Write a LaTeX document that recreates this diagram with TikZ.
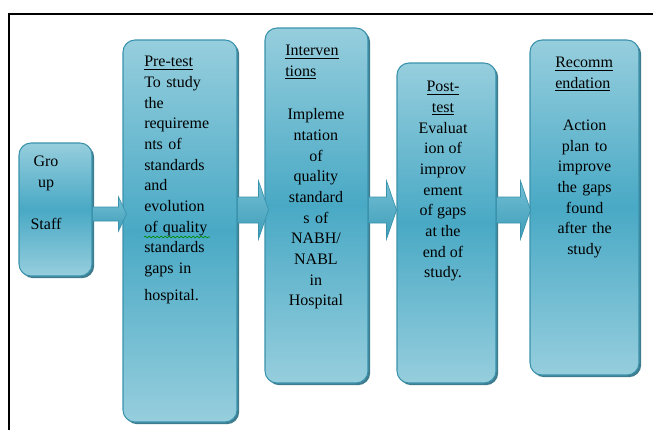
\documentclass[tikz,border=0pt]{standalone}
\usepackage{fontspec}
\setmainfont{Liberation Serif}
\usetikzlibrary{calc}
\usetikzlibrary{shadows}
\usetikzlibrary{decorations.pathmorphing}

\definecolor{boxlight}{HTML}{96CEDD}
\definecolor{boxmid}{HTML}{49A9C5}
\definecolor{boxedge}{HTML}{3A92AC}
\definecolor{boxshadow}{HTML}{2A6E82}
\definecolor{arrowtop}{HTML}{72BFD4}
\definecolor{arrowbot}{HTML}{3E9DB8}

\tikzset{
  stage/.style={rectangle, rounded corners=9pt, draw=boxedge, line width=0.8pt,
    top color=boxlight, bottom color=boxlight, middle color=boxmid,
    drop shadow={shadow xshift=1.6pt, shadow yshift=-1.6pt, fill=boxshadow, opacity=0.9}},
  stagetext/.style={inner sep=0pt, font=\fontsize{12}{15.5}\selectfont},
  flowarrow/.style={draw=boxedge, line width=0.5pt, top color=arrowtop, bottom color=arrowbot}
}

\begin{document}
\begin{tikzpicture}[x=0.75pt, y=-0.75pt]
\useasboundingbox (0,0) rectangle (653,430);

% frame
\draw[line width=1.1pt] (653,14) -- (9,14) -- (9,430);

% the five stages
\node[stage, minimum width=54.75pt, minimum height=99.75pt] (group) at (55.5,209.5) {};
\node[stage, minimum width=85.5pt, minimum height=286.5pt] (pre) at (180,231) {};
\node[stage, minimum width=77.25pt, minimum height=266.25pt] (interv) at (316.5,205.5) {};
\node[stage, minimum width=74.25pt, minimum height=240pt] (post) at (446.5,223) {};
\node[stage, minimum width=81.75pt, minimum height=251.25pt] (recom) at (584.5,207.5) {};

% texts of the stages
\node[stagetext, align=center, anchor=north] (grouptxt) at (46,156) {Gro\\up\\[16pt]Staff};
\node[stagetext, align=left, text width=62pt, anchor=north west] (pretxt) at (144,56)
  {\underline{Pre-test}\\To study\\the\\requireme\\nts of\\standards\\and\\evolution\\of  quality\\standards\\gaps in\\[5pt]hospital.};
\node[stagetext, text width=46pt, anchor=north west] (intervtxt) at (285,45)
  {{\raggedright\underline{Interven}\\\underline{tions}\par}\vspace{17pt}
   {\centering Impleme\\ntation\\of\\quality\\standard\\s of\\NABH/\\NABL\\in\\Hospital\par}};
\node[stagetext, align=center, anchor=north] (posttxt) at (443,81)
  {\underline{Post-}\\\underline{test}\\Evaluat\\ion of\\improv\\ement\\of gaps\\at the\\end of\\study.};
\node[stagetext, text width=44pt, anchor=north west] (recomtxt) at (555,57)
  {{\raggedright\underline{Recomm}\\\underline{endation}\par}\vspace{16pt}
   {\centering Action\\plan to\\improve\\the gaps\\found\\after the\\study\par}};

% green spell-check wave under "of quality"
\draw[green!55!black, line width=0.5pt, decorate, decoration={snake, amplitude=0.6pt, segment length=3pt}]
  ($(pretxt.north west)+(0,181)$) -- ++(66,0);

% block arrows between stages
\path[flowarrow] ($(group.east)+(0,-2.5)$) -- ++(26,0) -- ++(0,-10) -- ++(8,17)
  -- ++(-8,17) -- ++(0,-10) -- ++(-26,0) -- cycle;
\path[flowarrow] ($(pre.east)+(0,-34)$) -- ++(21,0) -- ++(0,-16) -- ++(10,29)
  -- ++(-10,29) -- ++(0,-16) -- ++(-21,0) -- cycle;
\path[flowarrow] ($(interv.east)+(0,-8.5)$) -- ++(18,0) -- ++(0,-16) -- ++(10,29)
  -- ++(-10,29) -- ++(0,-16) -- ++(-18,0) -- cycle;
\path[flowarrow] ($(post.east)+(0,-26)$) -- ++(24,0) -- ++(0,-16) -- ++(10,29)
  -- ++(-10,29) -- ++(0,-16) -- ++(-24,0) -- cycle;

\end{tikzpicture}
\end{document}
